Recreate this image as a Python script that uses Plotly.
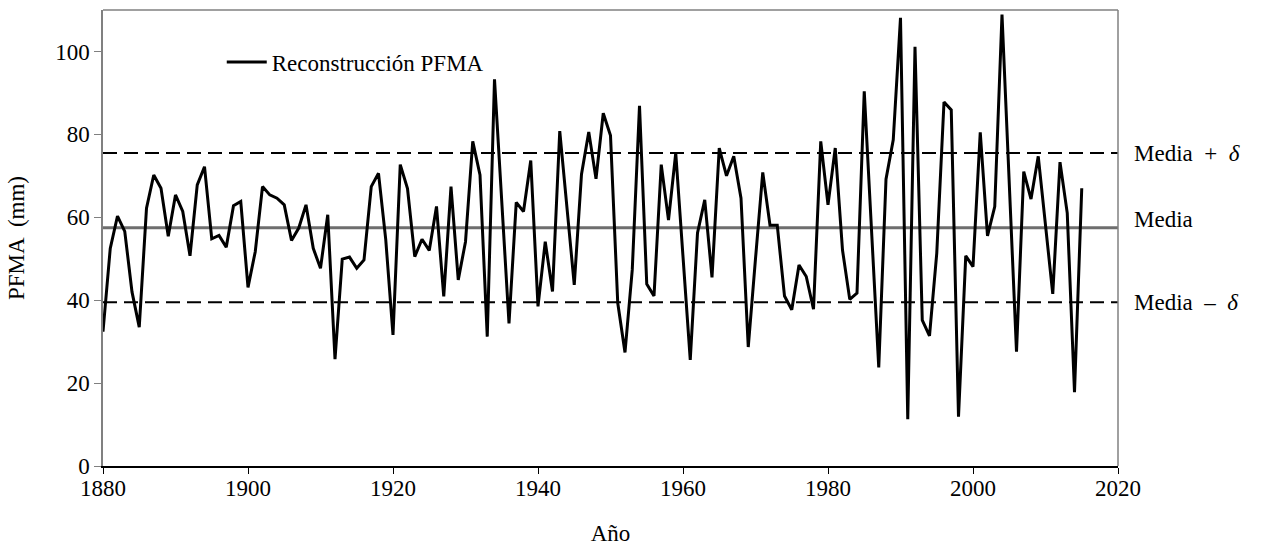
import plotly.graph_objects as go

years = list(range(1880, 2016))
pfma = [
    32.4, 52.5, 60.3, 56.6, 42.0, 33.5, 62.2, 70.2, 67.0, 55.4,   # 1880-1889
    65.4, 61.4, 50.7, 67.8, 72.2, 54.8, 55.6, 52.8, 62.8, 63.8,   # 1890-1899
    43.1, 51.7, 67.4, 65.4, 64.6, 63.0, 54.4, 57.4, 63.0, 52.5,   # 1900-1909
    47.7, 60.6, 25.8, 49.9, 50.4, 47.7, 49.7, 67.4, 70.6, 54.6,   # 1910-1919
    31.6, 72.7, 66.9, 50.5, 54.7, 52.0, 62.6, 40.9, 67.4, 44.9,   # 1920-1929
    54.1, 78.3, 70.2, 31.2, 93.3, 64.0, 34.4, 63.6, 61.4, 73.7,   # 1930-1939
    38.5, 54.1, 42.1, 80.8, 62.2, 43.7, 70.4, 80.6, 69.3, 85.1,   # 1940-1949
    79.7, 39.3, 27.4, 47.3, 86.9, 43.9, 41.0, 72.7, 59.3, 75.5,   # 1950-1959
    50.5, 25.6, 56.2, 64.2, 45.5, 76.7, 70.0, 74.7, 64.6, 28.7,   # 1960-1969
    50.0, 70.8, 58.1, 58.1, 41.0, 37.7, 48.5, 45.7, 37.8, 78.3,   # 1970-1979
    63.0, 76.7, 52.1, 40.2, 41.7, 90.4, 57.0, 23.8, 69.2, 78.7,   # 1980-1989
    108.1, 11.3, 101.1, 35.2, 31.4, 51.3, 87.8, 85.9, 11.9, 50.7, # 1990-1999
    48.1, 80.5, 55.5, 62.6, 108.9, 68.0, 27.6, 71.0, 64.4, 74.7,  # 2000-2009
    57.5, 41.5, 73.3, 61.0, 17.8, 67.0,                           # 2010-2015
]

media = 57.5
delta = 18.0

x_ticks = [1880, 1900, 1920, 1940, 1960, 1980, 2000, 2020]
y_ticks = [0, 20, 40, 60, 80, 100]

FONT = "Liberation Serif"
FS = 23

fig = go.Figure()

for yv in (media + delta, media - delta):
    fig.add_trace(go.Scatter(
        x=[1880, 2020], y=[yv, yv], mode="lines",
        line=dict(color="black", width=2, dash="14px,7px"),
        showlegend=False, hoverinfo="skip"))
fig.add_trace(go.Scatter(
    x=[1880, 2020], y=[media, media], mode="lines",
    line=dict(color="#6e6e6e", width=3),
    showlegend=False, hoverinfo="skip"))
fig.add_trace(go.Scatter(
    x=years, y=pfma, mode="lines", name="Reconstrucción PFMA",
    line=dict(color="black", width=3)))

fig.update_layout(
    width=1262, height=546,
    margin=dict(l=103, r=144, t=10, b=80, autoexpand=False),
    paper_bgcolor="white", plot_bgcolor="white",
    font=dict(family=FONT, size=FS, color="black"),
    showlegend=True,
    legend=dict(x=0.117, y=0.886, xanchor="left", yanchor="middle",
                bgcolor="rgba(0,0,0,0)", font=dict(family=FONT, size=FS),
                tracegroupgap=0, itemwidth=40),
)

fig.update_xaxes(
    range=[1880, 2020], tickvals=x_ticks, ticktext=[str(v) for v in x_ticks],
    showgrid=False, zeroline=False, automargin=False,
    showline=True, linecolor="black", linewidth=1.5, mirror=False,
    ticks="outside", ticklen=6, tickcolor="black", tickwidth=1,
    ticklabelstandoff=-5,
    tickfont=dict(family=FONT, size=FS),
    title=dict(text="Año", font=dict(family=FONT, size=FS), standoff=30),
)
fig.update_yaxes(
    range=[0, 110], tickvals=y_ticks, ticktext=[str(v) for v in y_ticks],
    showgrid=False, zeroline=False, automargin=False,
    showline=True, linecolor="#808080", linewidth=1.5, mirror=False,
    ticks="outside", ticklen=7, tickcolor="#808080", tickwidth=1,
    tickfont=dict(family=FONT, size=FS),
    title=dict(text="PFMA  (mm)", font=dict(family=FONT, size=FS), standoff=24),
)

# frame (top and right)
fig.add_shape(type="line", xref="paper", yref="paper", x0=0, x1=1, y0=1, y1=1,
              line=dict(color="#808080", width=1.5))
fig.add_shape(type="line", xref="paper", yref="paper", x0=1, x1=1, y0=0, y1=1,
              line=dict(color="#808080", width=1.5))

# right-hand labels
lab = [
    (media + delta, "Media  +  <i>δ</i>", 0),
    (media, "Media", 8),
    (media - delta, "Media  –  <i>δ</i>", 0),
]
for yv, txt, dy in lab:
    fig.add_annotation(x=1.0, xref="paper", y=yv, yref="y", text=txt,
                       showarrow=False, xanchor="left", xshift=14, yshift=dy,
                       font=dict(family=FONT, size=FS, color="black"))

fig.write_html("out.html")
